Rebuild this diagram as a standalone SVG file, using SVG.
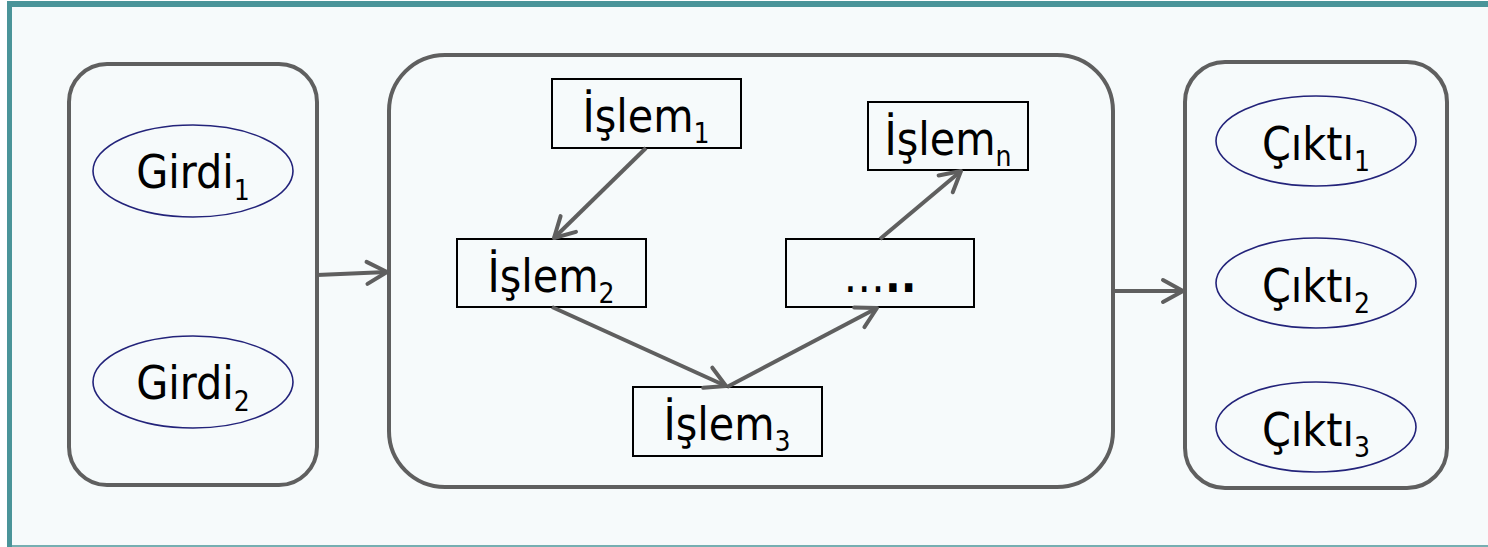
<svg xmlns="http://www.w3.org/2000/svg" width="1488" height="547" viewBox="0 0 1488 547">
  <defs>
    <style>
      .group { fill: none; stroke: #5f5f5f; stroke-width: 4; }
      .data { fill: none; stroke: #23237a; stroke-width: 1.6; }
      .step { fill: none; stroke: #000; stroke-width: 2; }
      .edge { fill: none; stroke: #5f5f5f; stroke-width: 4; marker-end: url(#head); }
      text { font-family: "DejaVu Sans Condensed", "DejaVu Sans", Verdana, sans-serif; font-stretch: condensed; font-size: 46px; fill: #000; text-anchor: middle; }
      .sub { font-size: 28px; }
      .big { font-weight: bold; }
    </style>
    <marker id="head" markerUnits="userSpaceOnUse" markerWidth="40" markerHeight="40" refX="0" refY="0" orient="auto" overflow="visible">
      <path d="M -20,-11 L 0,0 L -20,11" fill="none" stroke="#5f5f5f" stroke-width="4" stroke-linecap="round" stroke-linejoin="round"/>
    </marker>
  </defs>

  <!-- page background and frame -->
  <rect x="0" y="0" width="1488" height="547" fill="#ffffff"/>
  <rect x="9" y="4" width="1479" height="542" fill="#f6fafb"/>
  <rect x="7" y="1" width="1481" height="6" fill="#4a9499"/>
  <rect x="7" y="1" width="5" height="546" fill="#4a9499"/>
  <line x1="7" y1="546" x2="1488" y2="546" stroke="#4a9499" stroke-width="1.5"/>

  <!-- inputs -->
  <g id="inputs">
    <rect class="group" x="69" y="64" width="248" height="421" rx="38"/>
    <g id="girdi1">
      <ellipse class="data" cx="193" cy="171" rx="100" ry="46"/>
      <text x="193" y="188">Girdi<tspan class="sub" dy="12">1</tspan></text>
    </g>
    <g id="girdi2">
      <ellipse class="data" cx="193" cy="382" rx="100" ry="46"/>
      <text x="193" y="399">Girdi<tspan class="sub" dy="12">2</tspan></text>
    </g>
  </g>

  <!-- processing -->
  <g id="process">
    <rect class="group" x="389" y="55" width="724" height="432" rx="56"/>
    <g id="islem1">
      <rect class="step" x="552" y="79" width="189" height="69"/>
      <text x="646" y="132">İşlem<tspan class="sub" dy="11">1</tspan></text>
    </g>
    <g id="islem2">
      <rect class="step" x="457" y="239" width="189" height="68"/>
      <text x="551" y="292">İşlem<tspan class="sub" dy="11">2</tspan></text>
    </g>
    <g id="islem3">
      <rect class="step" x="633" y="387" width="189" height="69"/>
      <text x="727" y="440">İşlem<tspan class="sub" dy="11">3</tspan></text>
    </g>
    <g id="islem-dots">
      <rect class="step" x="786" y="239" width="188" height="68"/>
      <text x="880" y="292">…<tspan class="big">..</tspan></text>
    </g>
    <g id="islemn">
      <rect class="step" x="868" y="102" width="160" height="68"/>
      <text x="948" y="155">İşlem<tspan class="sub" dy="11">n</tspan></text>
    </g>
  </g>

  <!-- outputs -->
  <g id="outputs">
    <rect class="group" x="1185" y="62" width="262" height="426" rx="40"/>
    <g id="cikti1">
      <ellipse class="data" cx="1316" cy="141" rx="100" ry="45"/>
      <text x="1316" y="160">Çıktı<tspan class="sub" dy="11">1</tspan></text>
    </g>
    <g id="cikti2">
      <ellipse class="data" cx="1316" cy="283" rx="100" ry="45"/>
      <text x="1316" y="302">Çıktı<tspan class="sub" dy="11">2</tspan></text>
    </g>
    <g id="cikti3">
      <ellipse class="data" cx="1316" cy="427" rx="100" ry="45"/>
      <text x="1316" y="446">Çıktı<tspan class="sub" dy="11">3</tspan></text>
    </g>
  </g>

  <!-- connectors -->
  <g id="connectors">
    <line class="edge" x1="317" y1="275" x2="387" y2="272"/>
    <line class="edge" x1="1113" y1="291" x2="1183" y2="291"/>
    <line class="edge" x1="646" y1="148" x2="554" y2="238"/>
    <line class="edge" x1="552" y1="307" x2="726" y2="386"/>
    <line class="edge" x1="727" y1="387" x2="877" y2="308"/>
    <line class="edge" x1="880" y1="239" x2="961" y2="171"/>
  </g>
</svg>
